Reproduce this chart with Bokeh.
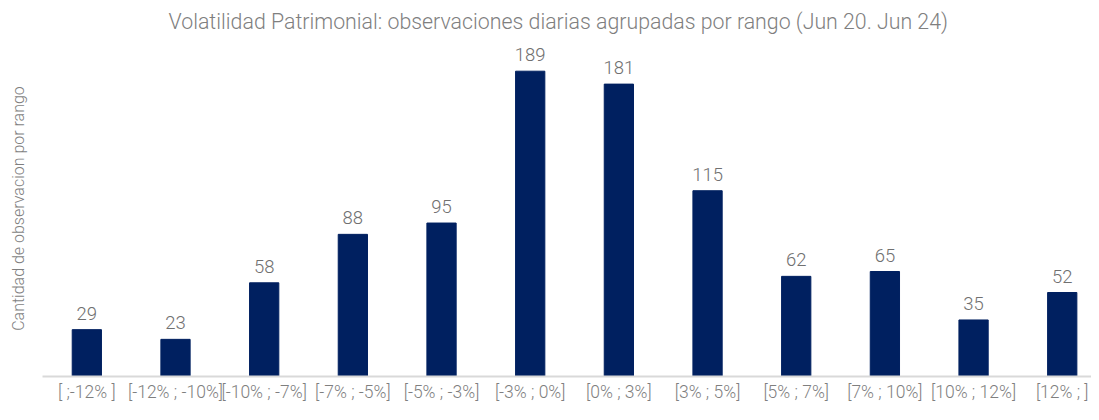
from bokeh.plotting import figure
from bokeh.models import Range1d, FixedTicker, ColumnDataSource
from bokeh.core.properties import value
from bokeh.embed import file_html
from bokeh.resources import INLINE

categories = ["[ ;-12% ]", "[-12% ; -10%]", "[-10% ; -7%]", "[-7% ; -5%]", "[-5% ; -3%]",
              "[-3% ; 0%]", "[0% ; 3%]", "[3% ; 5%]", "[5% ; 7%]", "[7% ; 10%]",
              "[10% ; 12%]", "[12% ; ]"]
counts = [29, 23, 58, 88, 95, 189, 181, 115, 62, 65, 35, 52]

FONT_NAME = "Roboto Light, Roboto"
GRAY = "#7f7f7f"

xs = list(range(len(categories)))
src = ColumnDataSource(dict(x=xs, top=counts, lbl=[str(c) for c in counts]))

p = figure(width=1091, height=404, output_backend="svg", toolbar_location=None,
           x_range=Range1d(-0.5, 11.33), y_range=Range1d(0, 208),
           min_border_left=42, min_border_right=0, min_border_top=0, min_border_bottom=0,
           title="Volatilidad Patrimonial: observaciones diarias agrupadas por rango (Jun 20. Jun 24)")
p.outline_line_color = None
p.grid.visible = False

p.title.align = "left"
p.title.offset = 126
p.title.text_font = FONT_NAME
p.title.text_font_size = "21.33px"
p.title.text_font_style = "normal"
p.title.text_color = GRAY
p.title.standoff = 13

p.vbar(x="x", top="top", width=0.33, bottom=0, source=src, color="#002060")
p.text(x="x", y="top", text="lbl", source=src, text_align="center", text_baseline="bottom",
       y_offset=-10, text_font=value(FONT_NAME), text_font_size="18.5px", text_color="#707070")

xa = p.xaxis[0]
xa.ticker = FixedTicker(ticks=xs)
xa.major_label_overrides = {i: c for i, c in enumerate(categories)}
xa.major_tick_line_color = None
xa.minor_tick_line_color = None
xa.major_tick_out = 0
xa.major_tick_in = 0
xa.axis_line_color = "#d9d9d9"
xa.axis_line_width = 2
xa.major_label_text_font = FONT_NAME
xa.major_label_text_font_size = "17.5px"
xa.major_label_text_color = GRAY
xa.major_label_standoff = 5

ya = p.yaxis[0]
ya.ticker = FixedTicker(ticks=[])
ya.axis_label = "Cantidad de observacion por rango"
ya.axis_label_text_font = FONT_NAME
ya.axis_label_text_font_size = "16px"
ya.axis_label_text_font_style = "normal"
ya.axis_label_text_color = GRAY
ya.axis_label_standoff = 15
ya.major_tick_line_color = None
ya.minor_tick_line_color = None
ya.axis_line_color = None
ya.major_tick_out = 0
ya.major_label_standoff = 0

open("out.html", "w").write(file_html(p, INLINE))
